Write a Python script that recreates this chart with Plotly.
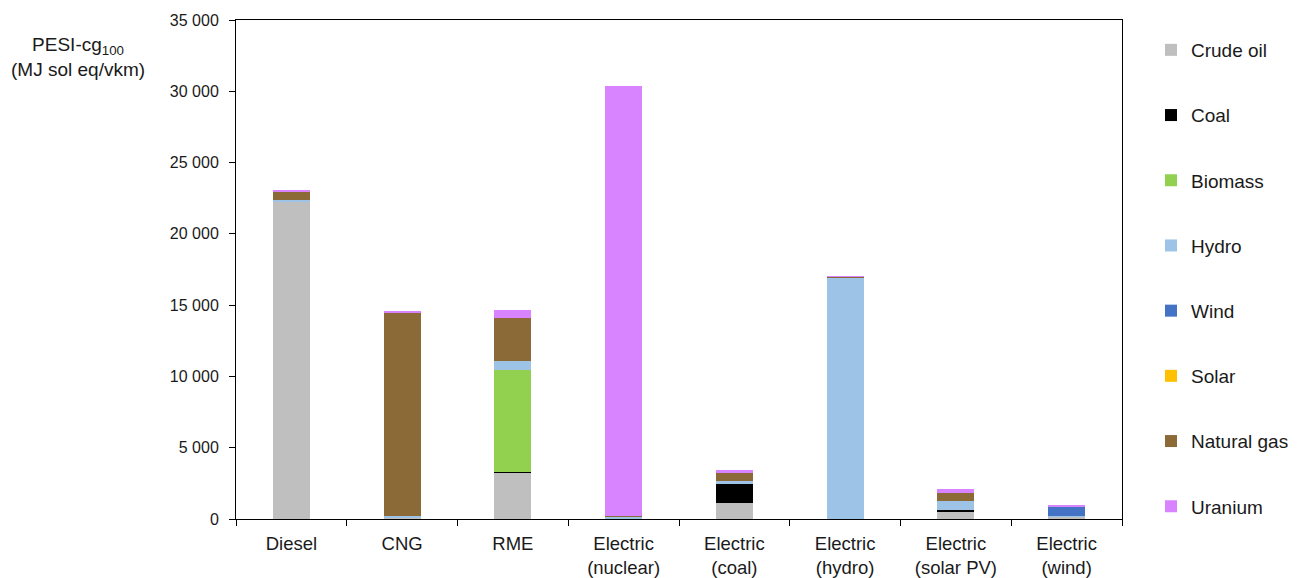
import plotly.graph_objects as go

categories = ["Diesel", "CNG", "RME", "Electric<br>(nuclear)", "Electric<br>(coal)",
              "Electric<br>(hydro)", "Electric<br>(solar PV)", "Electric<br>(wind)"]

crude_oil   = [22300,    40, 3230,    30, 1120,    20, 470, 180]
coal        = [    0,     0,  100,     0, 1330,     0, 140,  10]
biomass     = [    0,     0, 7130,     0,    0,     0,   0,   0]
hydro       = [   60,   160,  650,   150,  190, 16950, 680,  10]
wind        = [    0,     0,    0,     0,    0,     0,   0, 650]
solar       = [    0,     0,    0,     0,    0,     0,   0,   0]
natural_gas = [  620, 14250, 3000,    60,  585,    10, 540,   0]
uranium     = [   80,    70,  580, 30100,  210,    50, 300,  90]

series = [
    ("Crude oil", crude_oil, "#BFBFBF"),
    ("Coal", coal, "#000000"),
    ("Biomass", biomass, "#92D050"),
    ("Hydro", hydro, "#9DC3E6"),
    ("Wind", wind, "#4472C4"),
    ("Solar", solar, "#FFC000"),
    ("Natural gas", natural_gas, "#8B6A37"),
    ("Uranium", uranium, "#D883FF"),
]

y_ticks = [0, 5000, 10000, 15000, 20000, 25000, 30000, 35000]

FONT = "Liberation Sans, Arial, sans-serif"
W, H = 1291, 570  # page body has an 8px offset

fig = go.Figure()
for name, vals, color in series:
    fig.add_trace(go.Bar(
        x=categories, y=vals, name=name, legendgroup=name,
        marker=dict(color=color, line=dict(width=0)),
    ))

fig.update_layout(
    barmode="stack",
    bargap=0.665,
    width=W, height=H,
    margin=dict(l=228, r=177, t=12, b=59),
    paper_bgcolor="white", plot_bgcolor="white",
    separators=". ",
    font=dict(family=FONT, color="#1a1a1a", size=16),
    legend=dict(
        xref="container", yref="container",
        x=1143 / W, y=1 - 23 / H,
        xanchor="left", yanchor="top",
        traceorder="grouped",
        font=dict(size=19, family=FONT, color="#1a1a1a"),
        tracegroupgap=37.5,
        maxheight=560,
        bgcolor="rgba(0,0,0,0)",
    ),
    xaxis=dict(
        showline=True, linecolor="black", linewidth=1, mirror=True,
        ticks="outside", tickson="boundaries", ticklen=6, tickcolor="black",
        tickfont=dict(size=18.5, family=FONT, color="#1a1a1a"),
        ticklabelstandoff=8, automargin=False,
        showgrid=False,
    ),
    yaxis=dict(
        range=[0, 35000], tickvals=y_ticks, tickformat=",d",
        showline=True, linecolor="black", linewidth=1, mirror=True,
        ticks="outside", ticklen=6, tickcolor="black",
        tickfont=dict(size=16, family=FONT, color="#1a1a1a"),
        ticklabelstandoff=7, automargin=False,
        showgrid=False, zeroline=False,
    ),
    annotations=[dict(
        text="PESI-cg<sub>100</sub><br>(MJ sol eq/vkm)",
        xref="paper", yref="paper",
        x=(78 - 236) / 886, y=(519 - 57) / 499,
        xanchor="center", yanchor="middle",
        showarrow=False, align="center",
        font=dict(size=19, family=FONT, color="#1a1a1a"),
    )],
)

fig.write_html("out.html")
